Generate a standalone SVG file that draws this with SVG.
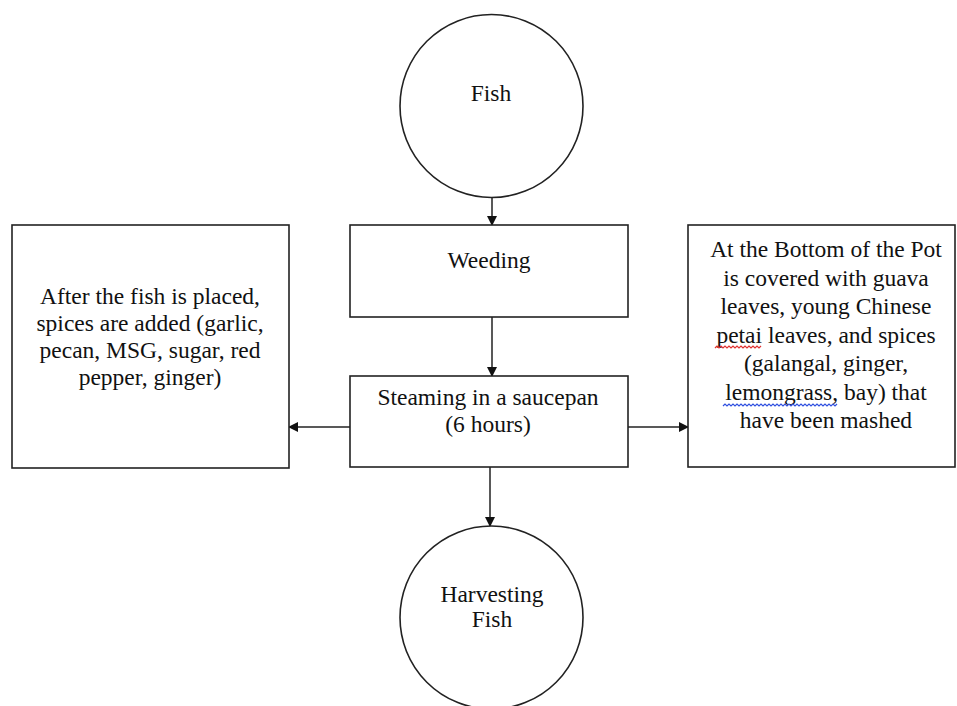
<svg xmlns="http://www.w3.org/2000/svg" width="957" height="706" viewBox="0 0 957 706" font-family="'Liberation Serif', 'Times New Roman', Times, 'DejaVu Serif', serif">
<style>
.shape{fill:#fff;stroke:#222;stroke-width:1.6}
.t{font-family:'Liberation Serif','Times New Roman',Times,'DejaVu Serif',serif;font-size:23.5px;fill:#111;text-anchor:middle}
.c{stroke:#222;stroke-width:1.5;fill:none}
.sq{fill:none;stroke-width:1.2}
</style>
<defs>
<marker id="ah" markerWidth="10" markerHeight="10" refX="9" refY="5" orient="auto" markerUnits="userSpaceOnUse" viewBox="0 0 10 10">
<path d="M0,0 L10,5 L0,10 Z" fill="#111"/>
</marker>
</defs>
<rect width="957" height="706" fill="#fff"/>
<g id="connectors">
<line class="c" x1="492" y1="197.5" x2="492" y2="225" marker-end="url(#ah)"/>
<line class="c" x1="492" y1="317" x2="492" y2="376" marker-end="url(#ah)"/>
<line class="c" x1="490" y1="467" x2="490" y2="526" marker-end="url(#ah)"/>
<line class="c" x1="350" y1="427" x2="289" y2="427" marker-end="url(#ah)"/>
<line class="c" x1="628" y1="427" x2="688" y2="427" marker-end="url(#ah)"/>
</g>
<g id="fish">
<circle class="shape" cx="491.5" cy="106" r="91.5"/>
<text class="t" x="491" y="101">Fish</text>
</g>
<g id="weeding">
<rect class="shape" x="350" y="225" width="278" height="92"/>
<text class="t" x="489" y="268">Weeding</text>
</g>
<g id="steaming">
<rect class="shape" x="350" y="376" width="278" height="91"/>
<text class="t" x="488" y="405">Steaming in a saucepan</text>
<text class="t" x="488" y="432">(6 hours)</text>
</g>
<g id="spices">
<rect class="shape" x="12" y="225" width="277" height="243"/>
<text class="t" x="150" y="304">After the fish is placed,</text>
<text class="t" x="150" y="331">spices are added (garlic,</text>
<text class="t" x="150" y="358">pecan, MSG, sugar, red</text>
<text class="t" x="150" y="385">pepper, ginger)</text>
</g>
<g id="pot-bottom">
<rect class="shape" x="688" y="225" width="267" height="242"/>
<text class="t" x="826" y="257">At the Bottom of the Pot</text>
<text class="t" x="826" y="285.5">is covered with guava</text>
<text class="t" x="826" y="314">leaves, young Chinese</text>
<text class="t" x="826" y="342.5">petai leaves, and spices</text>
<text class="t" x="826" y="371">(galangal, ginger,</text>
<text class="t" x="826" y="399.5">lemongrass, bay) that</text>
<text class="t" x="826" y="428">have been mashed</text>
<path class="sq" stroke="#e03030" d="M715,348 l2,-2 l2,2 l2,-2 l2,2 l2,-2 l2,2 l2,-2 l2,2 l2,-2 l2,2 l2,-2 l2,2 l2,-2 l2,2 l2,-2 l2,2 l2,-2 l2,2 l2,-2 l2,2 l2,-2 l2,2 l2,-2"/>
<path class="sq" stroke="#3050e0" d="M723,406 l2,-2 l2,2 l2,-2 l2,2 l2,-2 l2,2 l2,-2 l2,2 l2,-2 l2,2 l2,-2 l2,2 l2,-2 l2,2 l2,-2 l2,2 l2,-2 l2,2 l2,-2 l2,2 l2,-2 l2,2 l2,-2 l2,2 l2,-2 l2,2 l2,-2 l2,2 l2,-2 l2,2 l2,-2 l2,2 l2,-2 l2,2 l2,-2 l2,2 l2,-2 l2,2 l2,-2 l2,2 l2,-2 l2,2 l2,-2 l2,2 l2,-2 l2,2 l2,-2 l2,2 l2,-2 l2,2 l2,-2 l2,2 l2,-2 l2,2 l2,-2 l2,2 l2,-2"/>
</g>
<g id="harvesting">
<circle class="shape" cx="491.5" cy="617.5" r="91.5"/>
<text class="t" x="492" y="602">Harvesting</text>
<text class="t" x="492" y="627">Fish</text>
</g>
</svg>
